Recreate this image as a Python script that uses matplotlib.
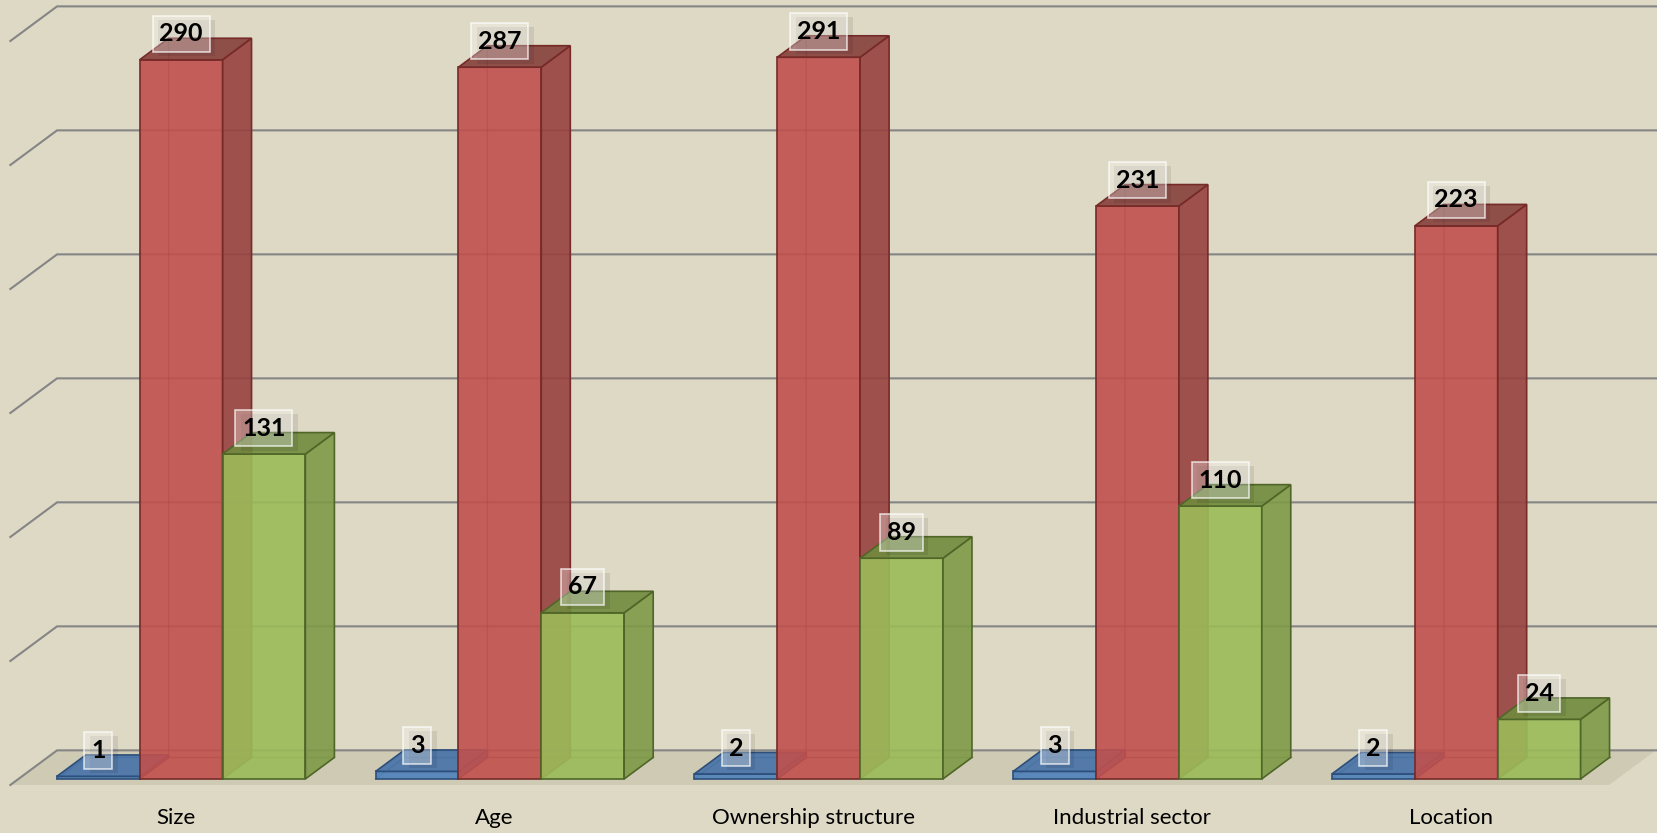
import matplotlib.pyplot as plt
import matplotlib.patheffects as pe
from matplotlib.patches import Polygon
from matplotlib.colors import to_rgba

plt.rcParams['font.family'] = ['Lato', 'DejaVu Sans']

categories = ["Size", "Age", "Ownership structure", "Industrial sector", "Location"]
blue_values = [1, 3, 2, 3, 2]
red_values = [290, 287, 291, 231, 223]
green_values = [131, 67, 89, 110, 24]
grid_values = [0, 50, 100, 150, 200, 250, 300]

bg = "#DDD9C4"
# front, side, top, edge colour per series
styles = [
    ("#4F81BD", "#3F6A9E", "#4672A8", "#2D4F7A"),
    ("#C0504D", "#97423F", "#87403C", "#762B29"),
    ("#9BBB59", "#7E9A47", "#718B3E", "#4F6628"),
]

W = 0.26                       # bar width in category units
DX, DY = 0.091, 8.67           # depth of one bar, data units
Z_FRONT, Z_BACK = -0.28, 1.33  # floor extent as multiples of bar depth
X_LEFT, X_RIGHT = -0.51, 4.505
XMIN, XMAX = -0.568, 4.633

fig = plt.figure(figsize=(16.58, 8.33), dpi=100)
fig.patch.set_facecolor(bg)
ax = fig.add_axes([0, 0, 1, 1])
ax.set_facecolor(bg)
ax.set_xlim(XMIN, XMAX)
ax.set_ylim(-21.8, 314.1)
ax.axis("off")


def d(x, y, z):
    # push a point back by z bar-depths
    return (x + z * DX, y + z * DY)


# floor
floor = [d(X_LEFT, 0, Z_FRONT), d(X_RIGHT, 0, Z_FRONT),
         d(X_RIGHT, 0, Z_BACK), d(X_LEFT, 0, Z_BACK)]
ax.add_patch(Polygon(floor, closed=True, fc="#CFCAB3", ec="none", zorder=1))

# gridlines: diagonal on the side wall, then along the back wall
for g in grid_values:
    p0 = d(X_LEFT, g, Z_FRONT)
    p1 = d(X_LEFT, g, Z_BACK)
    ax.plot([p0[0], p1[0], XMAX + 1], [p0[1], p1[1], p1[1]],
            color="#858585", lw=1.5, zorder=2, solid_joinstyle="miter")

zo = 3
for i in range(len(categories)):
    for k, vals in enumerate([blue_values, red_values, green_values]):
        v = vals[i]
        x0 = i - 1.5 * W + k * W
        x1 = x0 + W
        front, side, top, edge = styles[k]

        # hidden edges, seen through the faces
        ax.plot([x0, x0 + DX, x0 + DX], [0, DY, v + DY], color=edge, lw=1.0, alpha=0.6, zorder=zo)
        ax.plot([x0 + DX, x1 + DX], [DY, DY], color=edge, lw=1.0, alpha=0.6, zorder=zo)

        ax.add_patch(Polygon([(x0, 0), (x1, 0), (x1, v), (x0, v)],
                             fc=to_rgba(front, 0.9), ec=edge, lw=1.2, zorder=zo + 1))
        ax.add_patch(Polygon([(x1, 0), d(x1, 0, 1), d(x1, v, 1), (x1, v)],
                             fc=to_rgba(side, 0.9), ec=edge, lw=1.2, zorder=zo + 1))
        ax.add_patch(Polygon([(x0, v), (x1, v), d(x1, v, 1), d(x0, v, 1)],
                             fc=to_rgba(top, 0.9), ec=edge, lw=1.2, zorder=zo + 1))

        # value label in a glassy box with a soft shadow
        xc = (x0 + x1) / 2
        t = ax.annotate(str(v), xy=(xc, v), xytext=(0, 18.7), textcoords="offset points",
                        ha="center", va="center", fontsize=18, fontweight="bold", color="black",
                        bbox=dict(boxstyle="square,pad=0.27", fc=(1, 1, 1, 0.3),
                                  ec=(1, 1, 1, 0.7), lw=1.2),
                        zorder=zo + 3)
        t.get_bbox_patch().set_path_effects([
            pe.SimplePatchShadow(offset=(4, -3), shadow_rgbFace="black", alpha=0.08),
            pe.Normal()])
        zo += 4

for i, cat in enumerate(categories):
    ax.text(i - 0.017, -15.6, cat, ha="center", va="center", fontsize=16, color="black")

fig.savefig("out.png", dpi=100, facecolor=bg)
